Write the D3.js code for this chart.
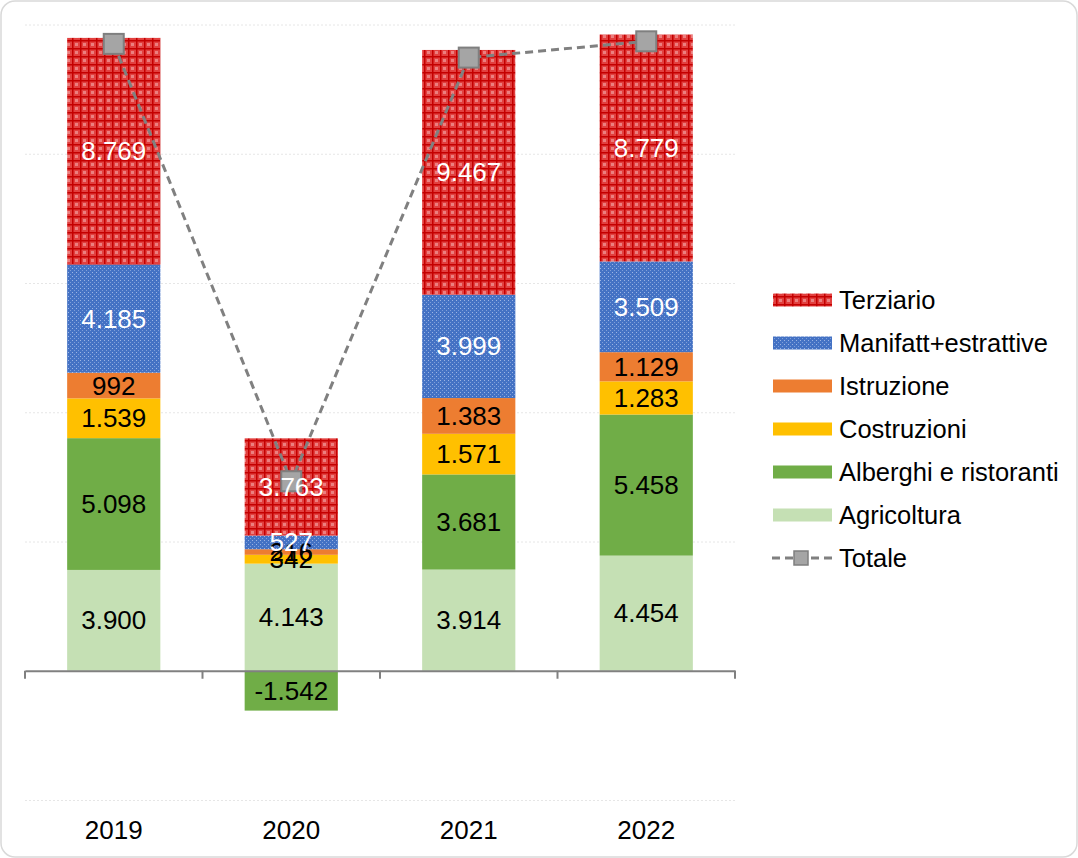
<!DOCTYPE html>
<html>
<head>
<meta charset="utf-8">
<script src="https://cdn.jsdelivr.net/npm/d3@7"></script>
<style>
  body { margin: 0; background: #fff; }
  svg { display: block; font-family: 'Liberation Sans', Arial, sans-serif; }
  .grid line { stroke: #e6e6e6; stroke-dasharray: 2,2; }
  .grid path { display: none; }
  .x-axis path, .x-axis line { stroke: #808080; stroke-width: 2; }
  .x-axis text { font-size: 26px; fill: #000; font-family: 'Liberation Sans', Arial, sans-serif; }
  .seg-label { font-size: 26px; text-anchor: middle; dominant-baseline: central; }
  .legend text { font-size: 25.5px; fill: #000; dominant-baseline: central; }
</style>
</head>
<body>
<div class="chart"></div>
<script>
// data
const years = ['2019', '2020', '2021', '2022']
const sectors = ['Agricoltura', 'Alberghi e ristoranti', 'Costruzioni', 'Istruzione', 'Manifatt+estrattive', 'Terziario']
const agricoltura = [3900, 4143, 3914, 4454]
const alberghi = [5098, -1542, 3681, 5458]
const costruzioni = [1539, 342, 1571, 1283]
const istruzione = [992, 216, 1383, 1129]
const manifatt = [4185, 527, 3999, 3509]
const terziario = [8769, 3763, 9467, 8779]
const totale = [24250, 7330, 23720, 24350]
const yTicks = [-5000, 0, 5000, 10000, 15000, 20000, 25000]

const seriesValues = [agricoltura, alberghi, costruzioni, istruzione, manifatt, terziario]
const colors = {
  'Agricoltura': '#c5e0b4',
  'Alberghi e ristoranti': '#70ad47',
  'Costruzioni': '#ffc000',
  'Istruzione': '#ed7d31',
  'Manifatt+estrattive': 'url(#pat-blue)',
  'Terziario': 'url(#pat-red)',
}
const labelColor = {
  'Manifatt+estrattive': '#fff',
  'Terziario': '#fff',
}
const numberFormat = new Intl.NumberFormat('it-IT')

const width = 1078
const height = 858

const rows = years.map((y, i) => {
  let r = { year: y }
  sectors.forEach((s, j) => (r[s] = seriesValues[j][i]))
  return r
})

const svg = d3
  .select('.chart')
  .append('svg')
  .attr('width', width)
  .attr('height', height)

// patterns
const defs = svg.append('defs')
const red = defs
  .append('pattern')
  .attr('id', 'pat-red')
  .attr('patternUnits', 'userSpaceOnUse')
  .attr('width', 8)
  .attr('height', 8)
red.append('rect').attr('width', 8).attr('height', 8).attr('fill', '#e2403f')
red.append('rect').attr('x', 3).attr('y', 3).attr('width', 3).attr('height', 3).attr('fill', '#ec7f7f')
red.append('rect').attr('x', 0).attr('y', 0).attr('width', 8).attr('height', 1.5).attr('fill', '#c40000')
red.append('rect').attr('x', 0).attr('y', 0).attr('width', 1.5).attr('height', 8).attr('fill', '#c40000')

const blue = defs
  .append('pattern')
  .attr('id', 'pat-blue')
  .attr('patternUnits', 'userSpaceOnUse')
  .attr('width', 4)
  .attr('height', 4)
blue.append('rect').attr('width', 4).attr('height', 4).attr('fill', '#4472c4')
blue.append('rect').attr('x', 0).attr('y', 0).attr('width', 1).attr('height', 1).attr('fill', '#9db5e4')
blue.append('rect').attr('x', 2).attr('y', 2).attr('width', 1).attr('height', 1).attr('fill', '#7f9fda')

// frame
svg
  .append('rect')
  .attr('x', 1)
  .attr('y', 1)
  .attr('width', width - 2)
  .attr('height', height - 2)
  .attr('rx', 14)
  .attr('fill', 'none')
  .attr('stroke', '#d9d9d9')
  .attr('stroke-width', 1.5)

const x = d3.scaleBand().domain(years).range([25, 735]).paddingInner(0.475).paddingOuter(0.2375)

const y = d3.scaleLinear().domain([-5000, 25000]).range([800, 24.5])

// grid
svg
  .append('g')
  .attr('class', 'grid')
  .attr('transform', 'translate(25,0)')
  .call(d3.axisLeft(y).tickValues(yTicks.filter((d) => d !== 0)).tickSize(-710).tickFormat(''))

const stack = d3.stack().keys(sectors).offset(d3.stackOffsetDiverging)
const stacked = stack(rows)

const layers = svg
  .selectAll('.layer')
  .data(stacked)
  .enter()
  .append('g')
  .attr('class', 'layer')
  .attr('fill', (d) => colors[d.key])

layers
  .selectAll('rect')
  .data((d) => d)
  .enter()
  .append('rect')
  .attr('x', (d) => x(d.data.year))
  .attr('width', x.bandwidth())
  .attr('y', (d) => y(Math.max(d[0], d[1])))
  .attr('height', (d) => Math.abs(y(d[0]) - y(d[1])))

// x axis
const xAxis = svg
  .append('g')
  .attr('class', 'x-axis')
  .attr('transform', `translate(0,${y(0)})`)
  .call(d3.axisBottom(x).tickSize(0).tickSizeOuter(0))
xAxis.selectAll('.tick text').attr('y', 160).attr('dy', '0.32em')
// category boundary ticks
const bounds = [25].concat(years.map((d) => x(d) + x.bandwidth() + x.step() * 0.2375))
xAxis
  .selectAll('.bound')
  .data(bounds)
  .enter()
  .append('line')
  .attr('class', 'bound')
  .attr('x1', (d) => d)
  .attr('x2', (d) => d)
  .attr('y1', 0)
  .attr('y2', 8)

// totale line
const line = d3
  .line()
  .x((d, i) => x(years[i]) + x.bandwidth() / 2)
  .y((d) => y(d))

svg
  .append('path')
  .datum(totale)
  .attr('d', line)
  .attr('fill', 'none')
  .attr('stroke', '#808080')
  .attr('stroke-width', 3)
  .attr('stroke-dasharray', '8,5')

svg
  .selectAll('.marker')
  .data(totale)
  .enter()
  .append('rect')
  .attr('class', 'marker')
  .attr('x', (d, i) => x(years[i]) + x.bandwidth() / 2 - 10)
  .attr('y', (d) => y(d) - 10)
  .attr('width', 20)
  .attr('height', 20)
  .attr('fill', '#a5a5a5')
  .attr('stroke', '#7f7f7f')
  .attr('stroke-width', 2)

// segment labels (drawn on top, as in the original)
stacked.forEach((layer) => {
  svg
    .append('g')
    .selectAll('text')
    .data(layer)
    .enter()
    .append('text')
    .attr('class', 'seg-label')
    .attr('x', (d) => x(d.data.year) + x.bandwidth() / 2)
    .attr('y', (d) => (y(d[0]) + y(d[1])) / 2)
    .attr('fill', labelColor[layer.key] || '#000')
    .text((d) => numberFormat.format(d.data[layer.key]))
})

// legend
const legendItems = sectors.slice().reverse()
const legend = svg.append('g').attr('class', 'legend')
legendItems.forEach((s, i) => {
  const ly = 300 + i * 43
  legend
    .append('rect')
    .attr('x', 773)
    .attr('y', ly - 6.5)
    .attr('width', 59)
    .attr('height', 13)
    .attr('fill', colors[s])
  legend.append('text').attr('x', 839).attr('y', ly).text(s)
})
const ty = 300 + 6 * 43
legend
  .append('line')
  .attr('x1', 772)
  .attr('x2', 834)
  .attr('y1', ty)
  .attr('y2', ty)
  .attr('stroke', '#808080')
  .attr('stroke-width', 3)
  .attr('stroke-dasharray', '8,5')
legend
  .append('rect')
  .attr('x', 794)
  .attr('y', ty - 7)
  .attr('width', 14)
  .attr('height', 14)
  .attr('fill', '#a5a5a5')
  .attr('stroke', '#7f7f7f')
  .attr('stroke-width', 1.5)
legend.append('text').attr('x', 839).attr('y', ty).text('Totale')
</script>
</body>
</html>
